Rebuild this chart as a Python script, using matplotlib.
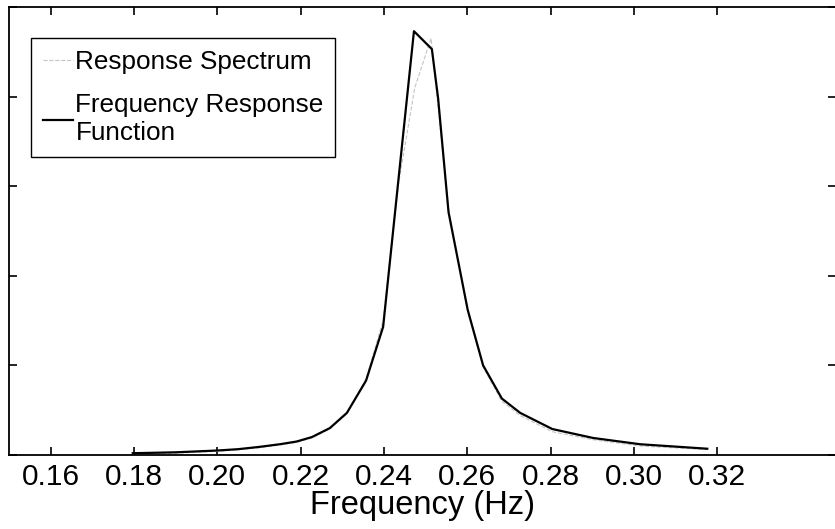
import matplotlib
matplotlib.use("Agg")
import matplotlib.pyplot as plt

plt.rcParams['font.family'] = ['Liberation Sans', 'DejaVu Sans']

# Frequency response function (black solid line)
freq_frf = [0.1797, 0.1850, 0.1900, 0.1950, 0.2000, 0.2050, 0.2100, 0.2150,
            0.2190, 0.2227, 0.2270, 0.2311, 0.2357, 0.2398, 0.2434, 0.2472,
            0.2515, 0.2530, 0.2555, 0.2601, 0.2638, 0.2683, 0.2727, 0.2804,
            0.2902, 0.3015, 0.3176]
amp_frf = [0.02, 0.025, 0.03, 0.04, 0.05, 0.065, 0.09, 0.12,
           0.15, 0.20, 0.30, 0.47, 0.83, 1.43, 3.04, 4.73,
           4.53, 3.98, 2.71, 1.62, 1.00, 0.63, 0.47, 0.29,
           0.19, 0.12, 0.07]

# Response spectrum (light grey dashed line, mostly hidden under the black one)
freq_rs = [0.1797, 0.1900, 0.2000, 0.2100, 0.2190, 0.2227, 0.2270, 0.2311,
           0.2357, 0.2398, 0.2434, 0.2474, 0.2513, 0.2555, 0.2601, 0.2638,
           0.2683, 0.2727, 0.2804, 0.2902, 0.3015, 0.3176]
amp_rs = [0.01, 0.02, 0.04, 0.08, 0.14, 0.19, 0.29, 0.46,
          0.85, 1.50, 3.00, 4.10, 4.65, 2.75, 1.60, 0.98,
          0.60, 0.44, 0.26, 0.17, 0.10, 0.06]

x_ticks = [0.16, 0.18, 0.20, 0.22, 0.24, 0.26, 0.28, 0.30, 0.32]
x_tick_labels = ['0.16', '0.18', '0.20', '0.22', '0.24', '0.26', '0.28', '0.30', '0.32']
y_ticks = [0, 1, 2, 3, 4, 5]

fig = plt.figure(figsize=(8.35, 5.29), dpi=100)
ax = fig.add_axes([9 / 835, 74 / 529, 827 / 835, 448 / 529])

ax.plot(freq_rs, amp_rs, color='#c4c4c4', lw=0.8, ls='--', label='Response Spectrum')
ax.plot(freq_frf, amp_frf, color='black', lw=1.6, label='Frequency Response\nFunction')

ax.set_xlim(0.15, 0.3485)
ax.set_ylim(0, 5)
ax.set_xticks(x_ticks)
ax.set_xticklabels(x_tick_labels)
ax.set_yticks(y_ticks)
ax.set_yticklabels([])
ax.tick_params(direction='in', top=True, right=True, length=6, width=1.2,
               labelsize=21.5, pad=6)
for s in ax.spines.values():
    s.set_linewidth(1.3)

ax.set_xlabel('Frequency (Hz)', fontsize=23.5, labelpad=-1)

leg = ax.legend(loc='upper left', bbox_to_anchor=(31 / 835, 1 - 38 / 529),
                bbox_transform=fig.transFigure, fontsize=18.8, frameon=True,
                fancybox=False, framealpha=1, edgecolor='black',
                handlelength=1.15, handletextpad=0.1, borderpad=0.45,
                labelspacing=0.75, borderaxespad=0)
leg.get_frame().set_linewidth(1.0)

fig.savefig('out.png', dpi=100)
